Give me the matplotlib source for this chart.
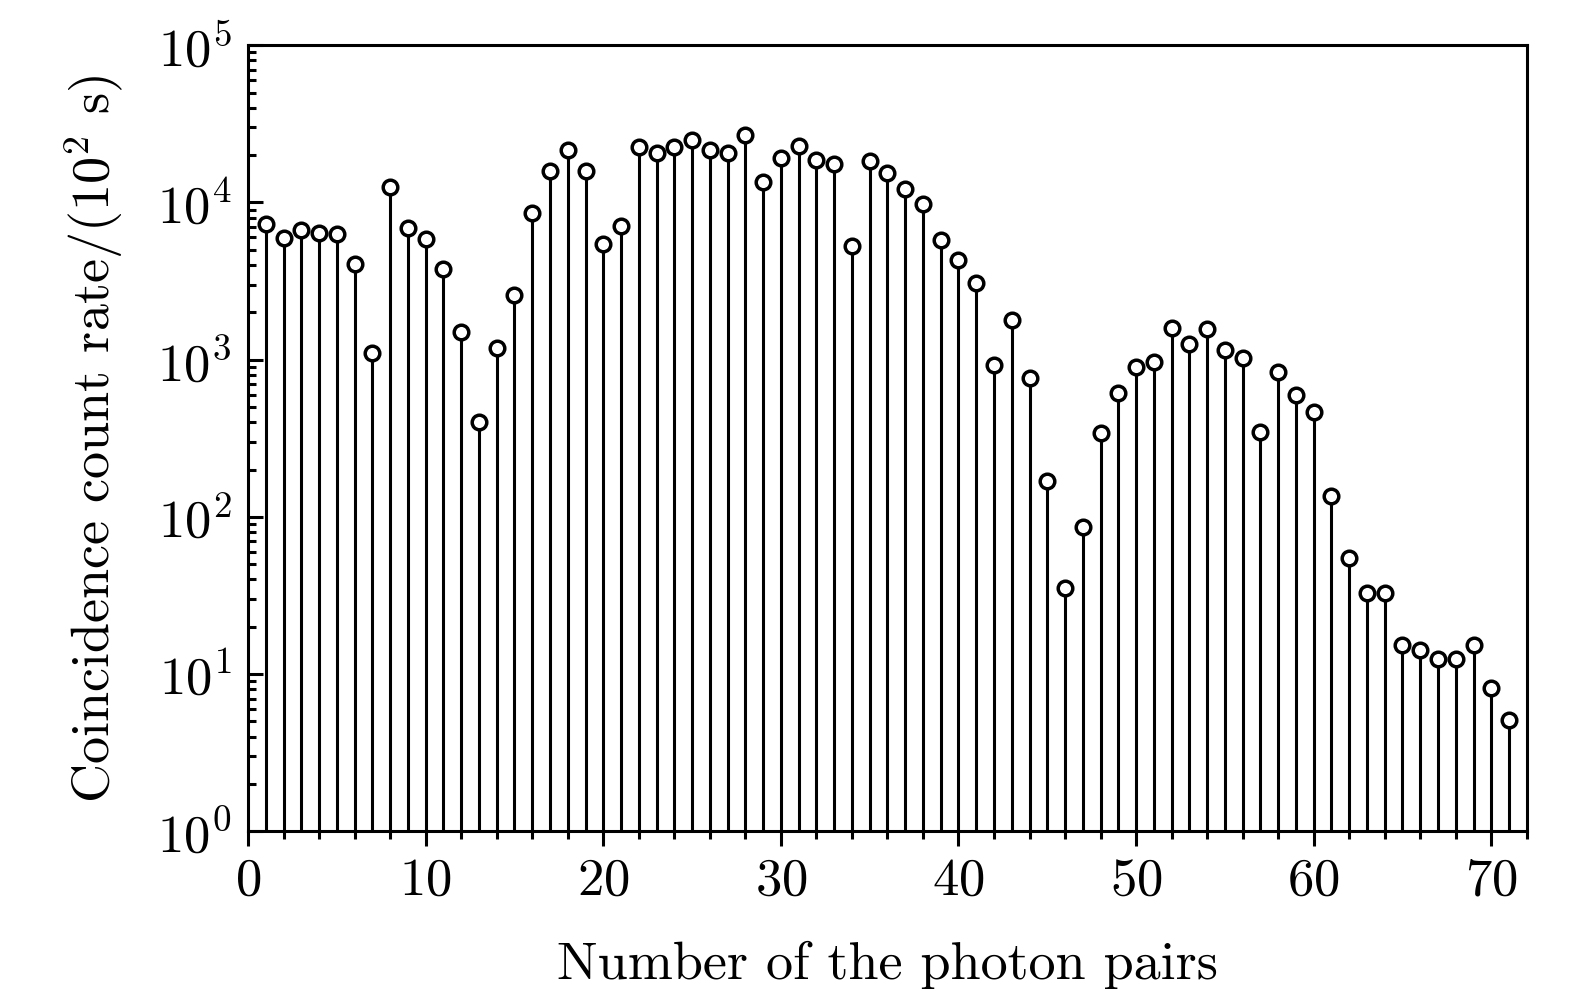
import numpy as np
import matplotlib
matplotlib.use("Agg")
import matplotlib.pyplot as plt
from matplotlib.ticker import LogLocator, MultipleLocator

############################################
# data
pairs = np.arange(1, 72)
counts = [7300, 5900, 6700, 6400, 6300, 4050, 1110, 12600, 6900, 5850,
          3770, 1500, 400, 1180, 2570, 8600, 15900, 21700, 15900, 5450,
          7100, 22600, 20700, 22600, 25100, 21700, 20700, 27000, 13500, 19300,
          23000, 18700, 17500, 5300, 18400, 15500, 12100, 9800, 5770, 4300,
          3070, 920, 1800, 770, 169, 35.5, 86, 343, 617, 905,
          960, 1600, 1250, 1560, 1145, 1020, 347, 840, 600, 468,
          136, 54.6, 32.6, 32.6, 15.4, 14.3, 12.4, 12.4, 15.4, 8.2,
          5.1]

plt.rcParams['font.family'] = 'cmr10'
plt.rcParams['mathtext.fontset'] = 'cm'
plt.rcParams['axes.formatter.use_mathtext'] = True

#############################################
## Plotting Data
fig, ax = plt.subplots(figsize=(15.75, 9.94), dpi=100)
fig.subplots_adjust(left=0.1575, right=0.9694, top=0.9545, bottom=0.1636)

ax.vlines(pairs, 1, counts, color='k', lw=2.2)
ax.plot(pairs, counts, 'o', ms=10.5, mfc='white', mec='k', mew=2.5)

# scales
ax.set_yscale("log")
ax.set_ylim(1, 1e5)
ax.set_xlim(0, 72)
ax.xaxis.set_major_locator(MultipleLocator(10))
ax.xaxis.set_minor_locator(MultipleLocator(2))
ax.yaxis.set_major_locator(LogLocator(base=10, numticks=10))
ax.yaxis.set_minor_locator(LogLocator(base=10, subs=np.arange(2, 10), numticks=20))

for s in ax.spines.values():
    s.set_linewidth(2.2)
ax.tick_params(axis='y', which='both', direction='in', width=2.2, labelsize=38, pad=12)
ax.tick_params(axis='y', which='major', length=11)
ax.tick_params(axis='y', which='minor', length=6)
ax.tick_params(axis='x', which='both', direction='out', width=2.2, labelsize=38, pad=8)
ax.tick_params(axis='x', which='major', length=11)
ax.tick_params(axis='x', which='minor', length=6)

# options
ax.set_xlabel('Number of the photon pairs', fontsize=39, labelpad=26)
ax.set_ylabel(r'Coincidence count rate/(10$^2$ s)', fontsize=39, labelpad=22)

fig.savefig("out.png")
